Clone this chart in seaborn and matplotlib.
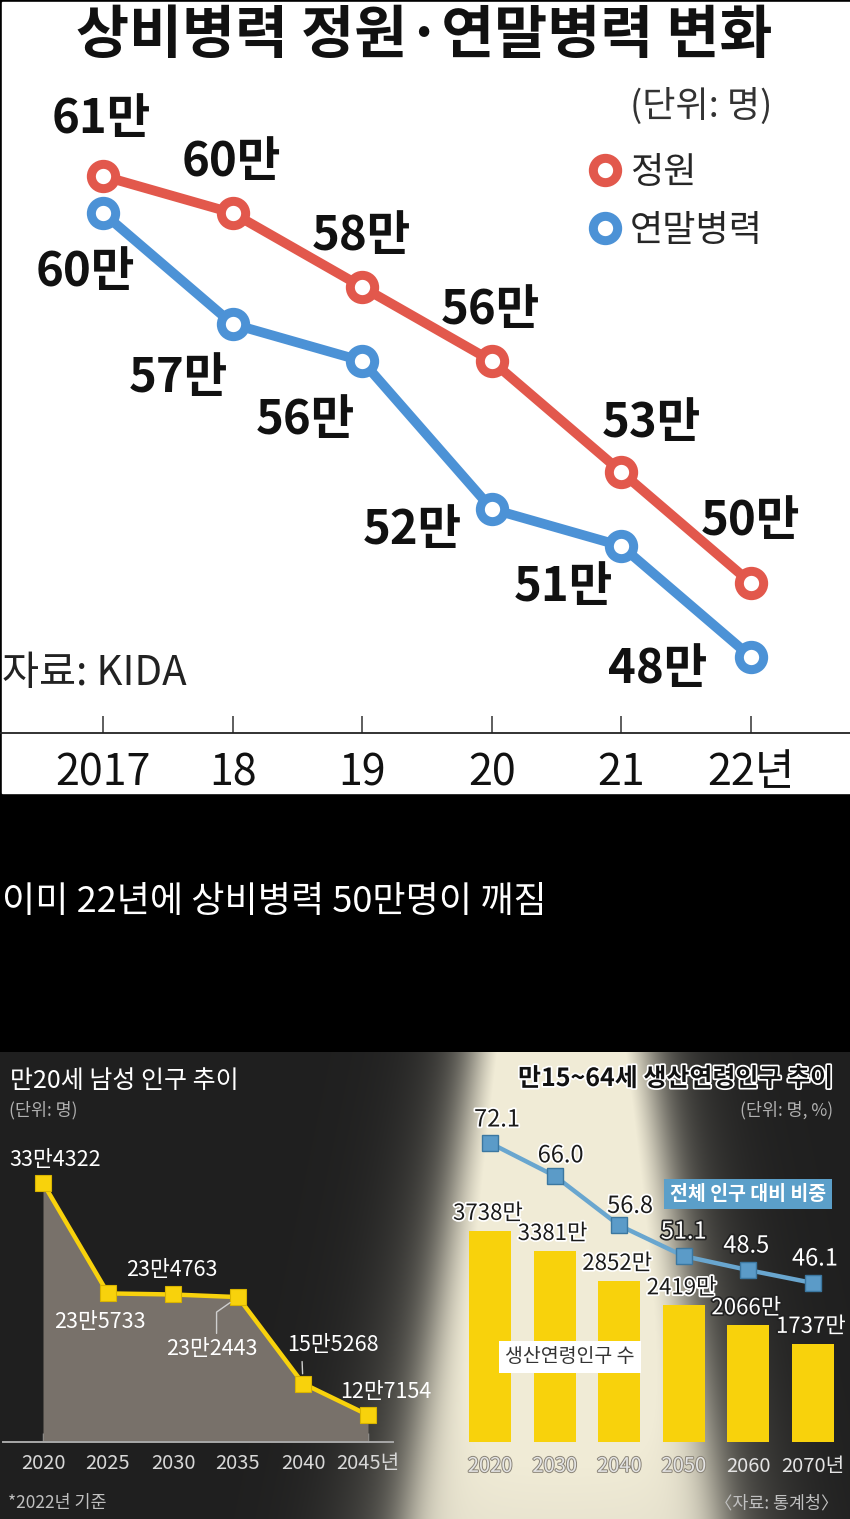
import numpy as np
import pandas as pd
import matplotlib
matplotlib.use("Agg")
import matplotlib.pyplot as plt
import matplotlib.patheffects as pe
from matplotlib.patches import Rectangle
from matplotlib.lines import Line2D
import seaborn as sns

sns.set_theme(style="white")
KR = "Noto Sans CJK KR"
plt.rcParams["font.family"] = [KR, "DejaVu Sans"]

# ---------------- data ----------------
years_top = [2017, 2018, 2019, 2020, 2021, 2022]
year_top_labels = ["2017", "18", "19", "20", "21", "22년"]
quota = [61, 60, 58, 56, 53, 50]          # 정원 (만 명)
actual = [60, 57, 56, 52, 51, 48]         # 연말병력 (만 명)

years_male = [2020, 2025, 2030, 2035, 2040, 2045]
year_male_labels = ["2020", "2025", "2030", "2035", "2040", "2045년"]
males20 = [334322, 235733, 234763, 232443, 155268, 127154]

years_work = ["2020", "2030", "2040", "2050", "2060", "2070"]
year_work_labels = ["2020", "2030", "2040", "2050", "2060", "2070년"]
working_pop = [3738, 3381, 2852, 2419, 2066, 1737]   # 만 명
working_share = [72.1, 66.0, 56.8, 51.1, 48.5, 46.1]  # %

# ---------------- layout helpers ----------------
W, H = 850, 1519
fig = plt.figure(figsize=(W / 100, H / 100), dpi=100)
fig.patch.set_facecolor("black")


def fx(x):
    return x / W


def fy(y):
    return 1 - y / H


RED = "#e2584c"
BLUE = "#4c92d6"
YELLOW = "#f8d20c"

# ================= TOP PANEL =================
fig.patches.append(Rectangle((fx(2), fy(793)), 1, (793 - 2) / H,
                             transform=fig.transFigure, color="white", zorder=-2))

ax1 = fig.add_axes([0, fy(733), 1, 733 / H])
ax1.set_facecolor("none")
for data, col in [(actual, BLUE), (quota, RED)]:
    sns.lineplot(x=years_top, y=data, ax=ax1, color=col, lw=7, marker="o",
                 markersize=17.5, markeredgewidth=6.5, markerfacecolor="white",
                 markeredgecolor=col)
ax1.set_xlim(2017 - 0.795, 2017 + 5.764)
ax1.set_ylim(45.946, 65.757)
ax1.set_yticks([])
ax1.set_xticks(years_top)
ax1.set_xticklabels(year_top_labels, fontsize=31, color="#111111")
for s in ["top", "left", "right"]:
    ax1.spines[s].set_visible(False)
ax1.spines["bottom"].set_color("#222222")
ax1.spines["bottom"].set_linewidth(1.3)
ax1.tick_params(axis="x", direction="in", length=12, width=1.1, color="#333333",
                pad=13, bottom=True)
ax1.set_xlabel("")

quota_off = [(-2, 57), (-1, 51), (-1, 51), (-1, 51), (30, 49), (-1, 62)]
actual_off = [(-18, -59), (-54, -54), (-57, -59), (-79, -21), (-58, -41), (-93, -12)]
for x, v, o in zip(years_top, quota, quota_off):
    ax1.annotate(f"{v}만", (x, v), xytext=o, textcoords="offset pixels",
                 ha="center", va="center", fontsize=34, fontweight="bold",
                 color="#111111")
for x, v, o in zip(years_top, actual, actual_off):
    ax1.annotate(f"{v}만", (x, v), xytext=o, textcoords="offset pixels",
                 ha="center", va="center", fontsize=34, fontweight="bold",
                 color="#111111")

handles = [Line2D([], [], ls="none", marker="o", markersize=17.5, markeredgewidth=6.5,
                  markerfacecolor="white", markeredgecolor=c) for c in (RED, BLUE)]
ax1.legend(handles, ["정원", "연말병력"], loc="upper left",
           bbox_to_anchor=(fx(583), fy(155)), bbox_transform=fig.transFigure,
           frameon=False, fontsize=26, handletextpad=0.1, labelspacing=0.6,
           handlelength=1.2, borderpad=0, borderaxespad=0)

fig.text(fx(772), fy(106), "(단위: 명)", ha="right", va="center", fontsize=26,
         color="#333333")
fig.text(fx(76), fy(36), "상비병력 정원·연말병력 변화", ha="left", va="center",
         fontsize=41.5, fontweight="bold", color="#111111")
fig.text(fx(2), fy(673), "자료: KIDA", ha="left", va="center", fontsize=29,
         color="#222222")

# ================= MIDDLE TEXT =================
fig.text(fx(2), fy(902), "이미 22년에 상비병력 50만명이 깨짐", ha="left", va="center",
         fontsize=26, color="white")

# ================= BOTTOM PANEL BACKGROUND =================
axbg = fig.add_axes([0, 0, 1, fy(1052)])
axbg.set_zorder(-1)
axbg.axis("off")
ph = 1519 - 1052
yy, xx = np.mgrid[0:ph, 0:W].astype(float)
c = 561 + yy * (2.0 / ph)
hw = 83 + yy * (74.0 / ph)
d = np.abs(xx - c) - hw
core = 1 / (1 + np.exp(d / 14))
glow = 0.25 / (1 + np.exp((np.abs(xx - c) - hw * 1.35) / 30))
inten = np.clip(core * (1 - 0.28 * yy / ph) + glow, 0, 1)
bg = np.array([0x1f, 0x1f, 0x1f]) / 255
light = np.array([0xf0, 0xeb, 0xd6]) / 255
img = bg[None, None, :] + (light - bg)[None, None, :] * inten[..., None]
axbg.imshow(img, extent=(0, W, 1519, 1052), aspect="auto", interpolation="bilinear")
axbg.set_xlim(0, W)
axbg.set_ylim(1519, 1052)

# ================= LEFT CHART =================
axL = fig.add_axes([fx(3), fy(1442), 390 / W, (1442 - 1140) / H])
axL.set_facecolor("none")
ybot = 103035
axL.fill_between(years_male, males20, ybot, color="#78716a", lw=0)
sns.lineplot(x=years_male, y=males20, ax=axL, color=YELLOW, lw=3.2, marker="s",
             markersize=11.5, markeredgewidth=0.8, markeredgecolor="#d9b400")
axL.set_xlim(2020 - 40 / 13, 2045 + 25 / 13)
axL.set_ylim(ybot, 372721)
axL.set_yticks([])
axL.set_xticks(years_male)
axL.set_xticklabels(year_male_labels, fontsize=14.5, color="#d8d8d8")
for s in ["top", "left", "right"]:
    axL.spines[s].set_visible(False)
axL.spines["bottom"].set_color("#a8a8a8")
axL.spines["bottom"].set_linewidth(1.4)
axL.tick_params(axis="x", direction="in", length=6.5, width=1, color="#a0a0a0",
                pad=8, bottom=True)


def man_fmt(v):
    return f"{v // 10000}만{v % 10000}"


male_off = [(12, 23), (-8, -29), (-1, 24), (-26, -52), (30, 39), (18, 23)]
for i, (x, v, o) in enumerate(zip(years_male, males20, male_off)):
    kw = {}
    if i == 3:
        kw["arrowprops"] = dict(arrowstyle="-", color="#cfcfcf", lw=1,
                                shrinkA=1, shrinkB=7, relpos=(0.55, 1.0),
                                connectionstyle="angle,angleA=90,angleB=35,rad=0")
    if i == 4:
        kw["arrowprops"] = dict(arrowstyle="-", color="#cfcfcf", lw=1,
                                shrinkA=2, shrinkB=7, relpos=(0.16, 0.0))
    axL.annotate(man_fmt(v), (x, v), xytext=o, textcoords="offset pixels",
                 ha="center", va="center", fontsize=15.5,
                 color="white", **kw)

fig.text(fx(10), fy(1081), "만20세 남성 인구 추이", ha="left", va="center",
         fontsize=18, fontweight="medium", color="white")
fig.text(fx(9), fy(1110), "(단위: 명)", ha="left", va="center", fontsize=12.5,
         color="#b0b0b0")
fig.text(fx(8), fy(1503), "*2022년 기준", ha="left", va="center", fontsize=12.5,
         color="#c0c0c0")

# ================= RIGHT CHART =================
axR = fig.add_axes([fx(430), fy(1442), 420 / W, (1442 - 1060) / H])
axR.set_facecolor("none")
sns.barplot(x=years_work, y=working_pop, ax=axR, color=YELLOW, saturation=1,
            width=0.65, linewidth=0)
axR.set_xlim(-0.929, 5.573)
axR.set_ylim(0, (1442 - 1060) * 17.7)
axR.set_yticks([])
axR.set_xticks(range(6))
axR.set_xticklabels(year_work_labels, fontsize=14.5, color="#e4e4e4")
for k, t in enumerate(axR.get_xticklabels()):
    if k < 4:
        t.set_path_effects([pe.withStroke(linewidth=1.4, foreground="#8a8478")])
axR.tick_params(axis="x", length=0, pad=10)
for s in axR.spines.values():
    s.set_visible(False)
axR.set_xlabel("")
axR.set_ylabel("")

for i, v in enumerate(working_pop):
    dark = i < 4
    axR.annotate(f"{v}만", (i, v), xytext=(-2, 6), textcoords="offset pixels",
                 ha="center", va="bottom", fontsize=16,
                 color="#1a1a1a" if dark else "white",
                 path_effects=[pe.withStroke(linewidth=2.5,
                                             foreground="white" if dark else "#222222")])

axR2 = axR.twinx()
axR2.set_facecolor("none")
sns.lineplot(x=list(range(6)), y=working_share, ax=axR2, color="#69a6cf", lw=3.2,
             marker="s", markersize=12, markeredgewidth=1, markeredgecolor="#3b77a0",
             markerfacecolor="#5b9bc8")
axR2.set_ylim(16.58, 87.51)
axR2.set_xlim(-0.929, 5.573)
axR2.set_yticks([])
axR2.set_ylabel("")
for s in axR2.spines.values():
    s.set_visible(False)

share_off = [(7, 23), (6, 20), (11, 19), (0, 24), (-2, 24), (2, 24)]
for i, (v, o) in enumerate(zip(working_share, share_off)):
    dark = i < 3
    axR2.annotate(f"{v:.1f}", (i, v), xytext=o, textcoords="offset pixels",
                  ha="center", va="center", fontsize=17,
                  color="#1a1a1a" if dark else "white",
                  path_effects=[pe.withStroke(linewidth=2.5,
                                              foreground="white" if dark else "#222222")])

fig.text(fx(748), fy(1194), "전체 인구 대비 비중", ha="center", va="center",
         fontsize=14, fontweight="bold", color="white",
         bbox=dict(boxstyle="square,pad=0.3", fc="#5b9fc9", ec="none"))
fig.text(fx(570), fy(1357), "생산연령인구 수", ha="center", va="center",
         fontsize=14, color="#333333",
         bbox=dict(boxstyle="square,pad=0.3", fc="white", ec="none"))

fig.text(fx(833), fy(1079), "만15~64세 생산연령인구 추이", ha="right", va="center",
         fontsize=18, fontweight="bold", color="#111111",
         path_effects=[pe.withStroke(linewidth=2.5, foreground="white")])
fig.text(fx(833), fy(1110), "(단위: 명, %)", ha="right", va="center",
         fontsize=12.5, color="#b0b0b0")
fig.text(fx(838), fy(1503), "〈자료: 통계청〉", ha="right", va="center",
         fontsize=12.5, color="#c0c0c0")

fig.savefig("out.png", dpi=100, facecolor=fig.get_facecolor())
